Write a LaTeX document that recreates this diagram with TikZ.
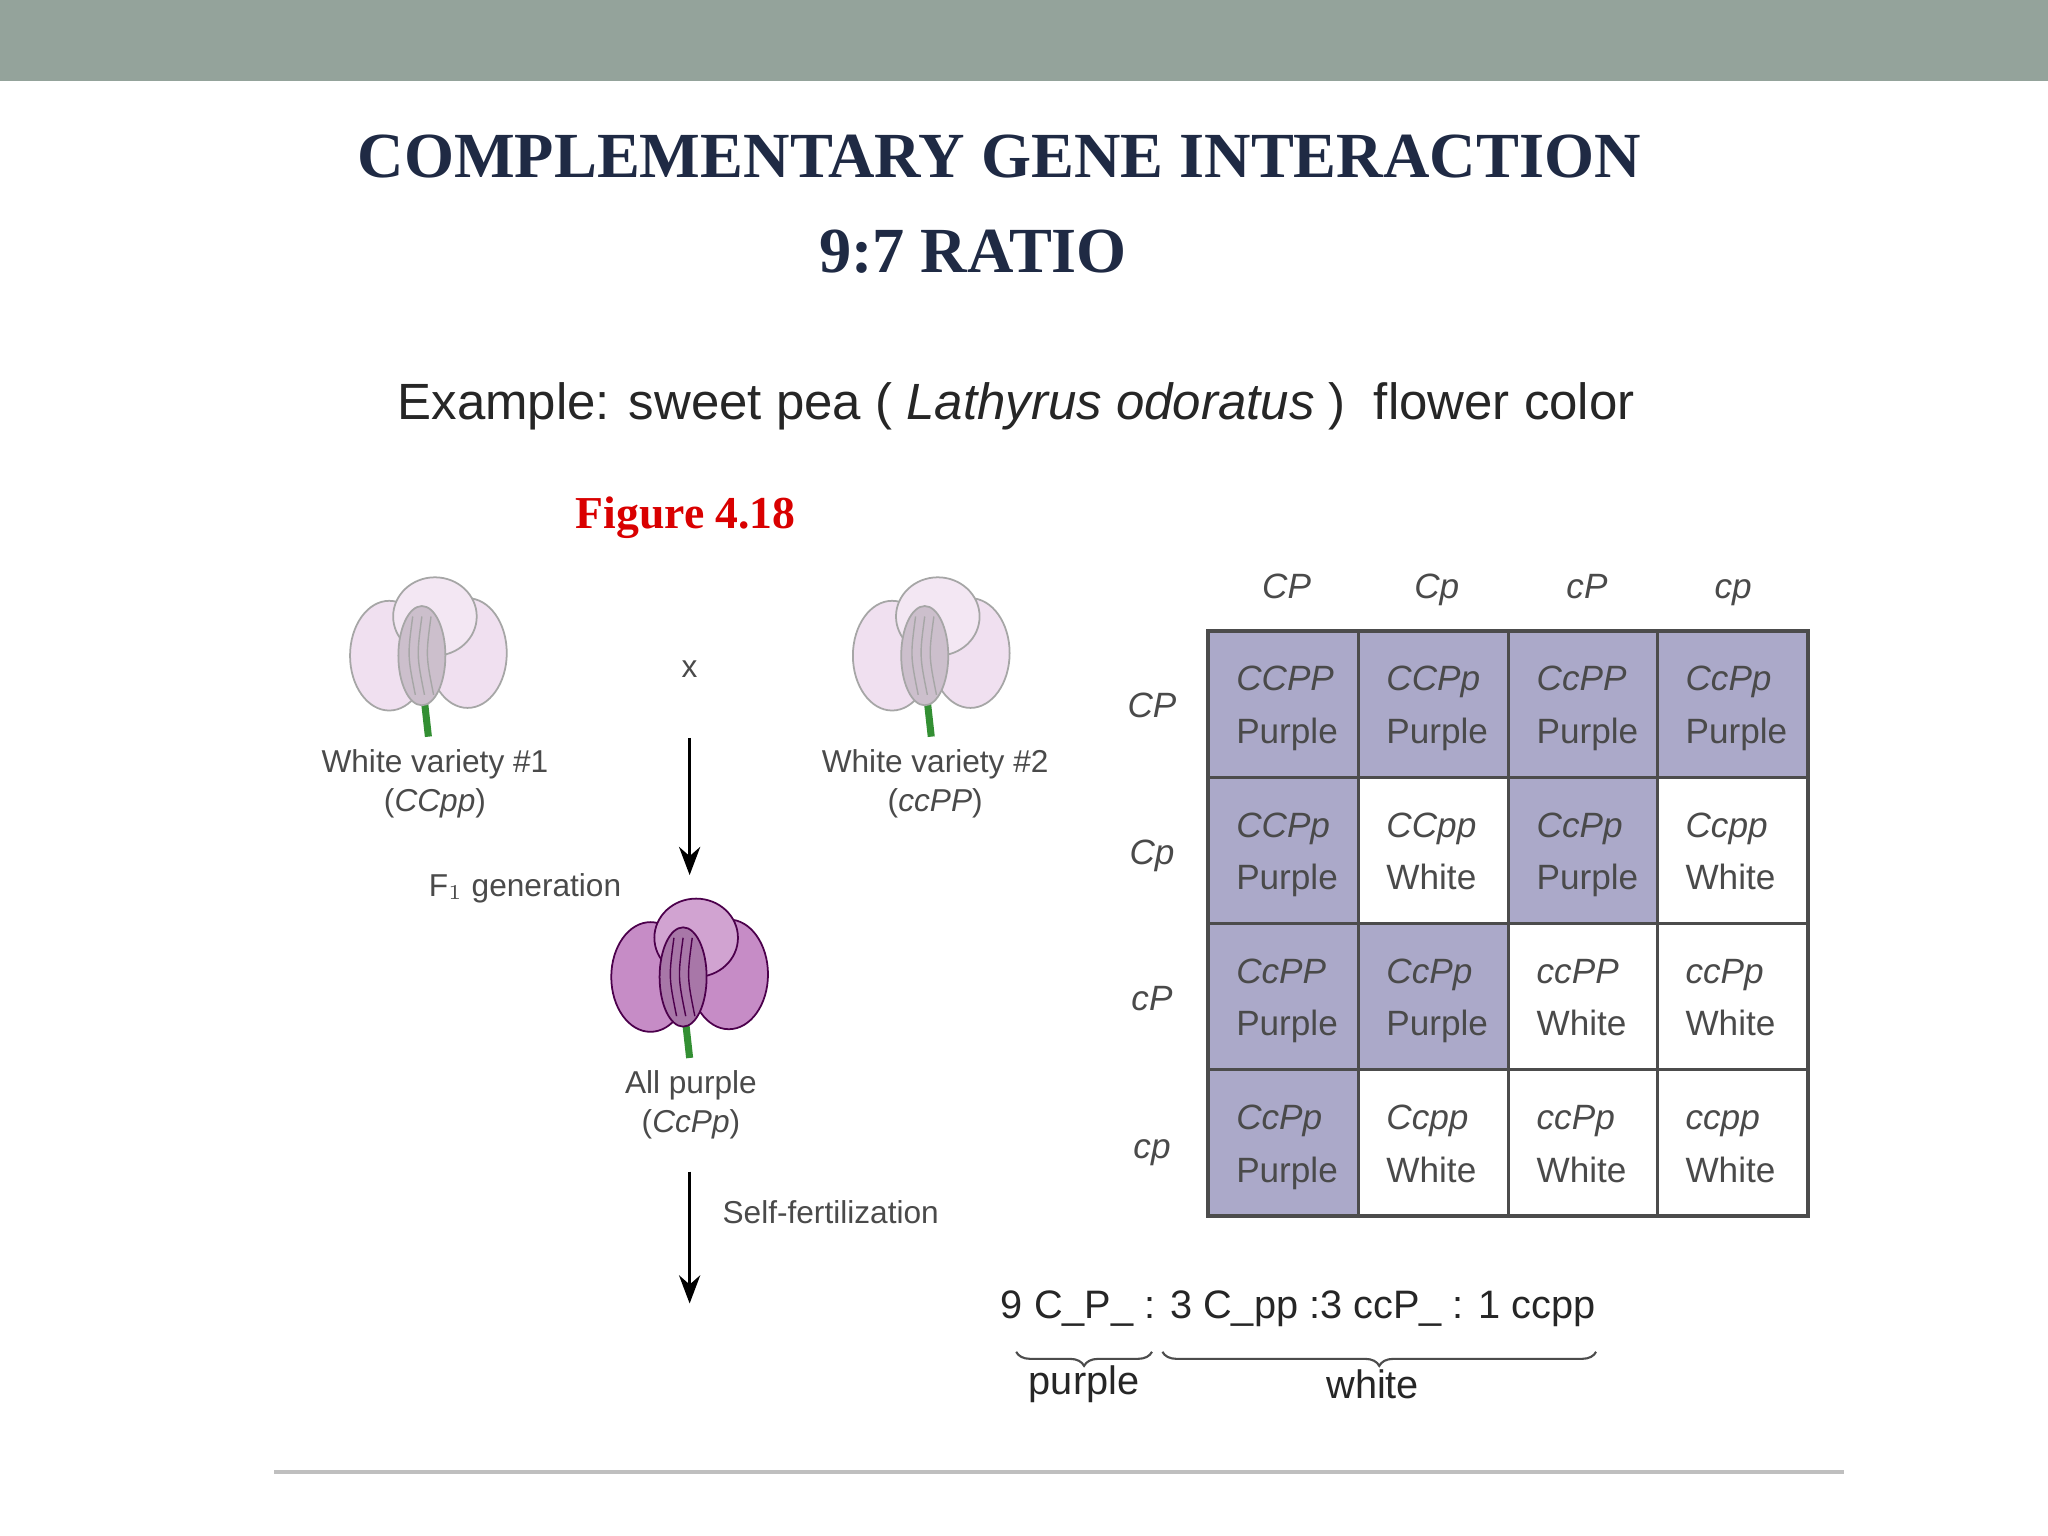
\documentclass[tikz,border=0pt]{standalone}
\usepackage{fontspec}
\setmainfont{Liberation Serif}
\newfontfamily\sans{Liberation Sans}
\usetikzlibrary{decorations.pathreplacing,arrows.meta}
\definecolor{band}{HTML}{94A39B}
\definecolor{navy}{HTML}{1F2A44}
\definecolor{cellp}{HTML}{ABA9C9}
\definecolor{txt}{HTML}{4A4A4A}
\tikzset{
 gt/.style={font=\sans\fontsize{10}{12}\selectfont\itshape, text=txt},
 gn/.style={font=\sans\fontsize{10}{12}\selectfont, text=txt},
 lab/.style={font=\sans\fontsize{9}{11}\selectfont, text=txt, align=center},
 cell/.style={draw=black!70, line width=0.8pt},
 arr/.style={-{Stealth[length=8pt,width=6pt]}, line width=1pt},
 petal/.style={line width=0.5pt}
}
\newcommand{\flower}[4]{% x y fill draw
 \begin{scope}[shift={(#1,#2)}]
  \colorlet{fA}{#3}\colorlet{fB}{#4}
  \colorlet{fC}{fA!80!white}\colorlet{fD}{fA!85!black}
  \draw[green!45!black!80, line width=2pt] (-3,45) -- (0,72);
  \draw[petal, draw=fB, fill=fA] (-30,10) ellipse (30 and 42);
  \draw[petal, draw=fB, fill=fA] (30,8) ellipse (30 and 42);
  \draw[petal, draw=fB, fill=fC] (5,-20) ellipse (32 and 30);
  \draw[petal, draw=fB, fill=fD] (-5,10) ellipse (18 and 38);
  \foreach \k in {-12,-5,2}{\draw[fB, line width=0.4pt] (\k,-20) .. controls (\k-4,10) .. (\k+2,40);}
 \end{scope}}
\begin{document}
\begin{tikzpicture}[x=0.013061cm,y=-0.013061cm]
\useasboundingbox (0,0) rectangle (1568,1176);
\fill[white] (0,0) rectangle (1568,1176);
\fill[band] (0,0) rectangle (1568,62);
\node[text=navy, font=\bfseries\fontsize{18.3}{22}\selectfont] (t1) at (765,120) {COMPLEMENTARY GENE INTERACTION};
\node[text=navy, font=\bfseries\fontsize{18.3}{22}\selectfont] (t2) at (745,193) {9:7 RATIO};
\node[font=\sans\fontsize{14.5}{17}\selectfont, text=black!85] (ex) at (778,311) {Example: sweet pea ( \textit{Lathyrus odoratus} )\ \ flower color};
\node[text=red!85!black, font=\bfseries\fontsize{13}{15}\selectfont] (fig) at (525,396) {Figure 4.18};
\flower{328}{492}{violet!12}{gray!70}
\flower{713}{492}{violet!12}{gray!70}
\flower{528}{738}{violet!45}{violet!60!black}
\node[lab] (w1) at (333,600) {White variety \#1\\(\textit{CCpp})};
\node[lab] (w2) at (716,600) {White variety \#2\\(\textit{ccPP})};
\node[lab] (x) at (528,512) {x};
\node[lab] (f1) at (402,680) {F$_1$ generation};
\node[lab] (ap) at (529,846) {All purple\\(\textit{CcPp})};
\node[lab] (sf) at (636,928) {Self-fertilization};
\coordinate (a1) at (528,565); \coordinate (a2) at (528,670);
\coordinate (b1) at (528,897); \coordinate (b2) at (528,998);
\draw[arr] (a1) -- (a2);
\draw[arr] (b1) -- (b2);
% grid
\def\xs{{925,1040,1155,1269,1384}}
\def\ys{{483,595,707,819,931}}
\foreach \r/\c/\g/\p in {
0/0/CCPP/1,0/1/CCPp/1,0/2/CcPP/1,0/3/CcPp/1,
1/0/CCPp/1,1/1/CCpp/0,1/2/CcPp/1,1/3/Ccpp/0,
2/0/CcPP/1,2/1/CcPp/1,2/2/ccPP/0,2/3/ccPp/0,
3/0/CcPp/1,3/1/Ccpp/0,3/2/ccPp/0,3/3/ccpp/0}{
 \pgfmathsetmacro\xa{\xs[\c]}\pgfmathsetmacro\xb{\xs[\c+1]}
 \pgfmathsetmacro\ya{\ys[\r]}\pgfmathsetmacro\yb{\ys[\r+1]}
 \ifnum\p=1 \def\fc{cellp}\else\def\fc{white}\fi
 \draw[cell, fill=\fc] (\xa,\ya) rectangle (\xb,\yb);
 \node[gt, anchor=base west] (g\r\c) at (\xa+12,\ya+46) {\g};
 \node[gn, anchor=base west] (n\r\c) at (\xa+12,\ya+86) {\ifnum\p=1 Purple\else White\fi};
}
\draw[cell, line width=1.2pt] (925,483) rectangle (1384,931);
\foreach \t/\x in {CP/985,Cp/1100,cP/1215,cp/1327}{\node[gt, anchor=base] (h\t) at (\x,458) {\t};}
\foreach \t/\y in {CP/549,Cp/662,cP/774,cp/887}{\node[gt, anchor=base] (r\t) at (882,\y) {\t};}
\node[font=\sans\fontsize{11.3}{14}\selectfont, text=black!85] (ratio) at (994,1002) {9 C\_P\_ : 3 C\_pp :3 ccP\_ : 1 ccpp};
\coordinate (p1) at (778,1035); \coordinate (p2) at (882,1035);
\coordinate (q1) at (890,1035); \coordinate (q2) at (1222,1035);
\draw[decorate, decoration={brace, mirror, amplitude=4pt}, black!70, line width=0.6pt] (p1) -- (p2);
\draw[decorate, decoration={brace, mirror, amplitude=4pt}, black!70, line width=0.6pt] (q1) -- (q2);
\node[font=\sans\fontsize{11.3}{14}\selectfont, text=black!85] (pl) at (830,1060) {purple};
\node[font=\sans\fontsize{11.3}{14}\selectfont, text=black!85] (wl) at (1051,1060) {white};
\coordinate (l1) at (210,1127); \coordinate (l2) at (1412,1127);
\draw[gray!50, line width=1.2pt] (l1) -- (l2);
\end{tikzpicture}
\end{document}
